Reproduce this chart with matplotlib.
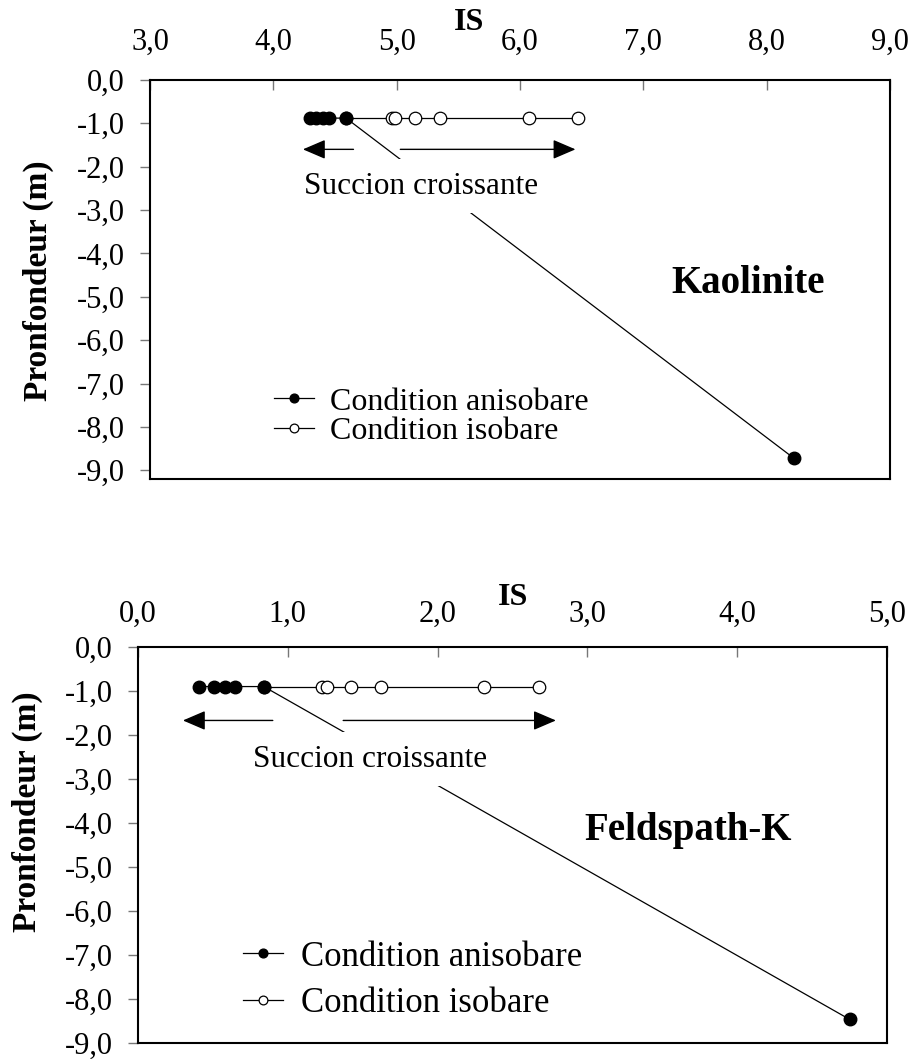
import matplotlib.pyplot as plt
from matplotlib.ticker import FuncFormatter, MultipleLocator

plt.rcParams['font.family'] = ['Liberation Serif', 'DejaVu Serif']

# Kaolinite
kao_aniso_is = [4.30, 4.35, 4.40, 4.45, 4.59, 8.22]
kao_aniso_depth = [-0.88, -0.88, -0.88, -0.88, -0.88, -8.72]
kao_iso_is = [4.59, 4.96, 4.99, 5.15, 5.35, 6.07, 6.47]
kao_iso_depth = [-0.88, -0.88, -0.88, -0.88, -0.88, -0.88, -0.88]

# Feldspath-K
fel_aniso_is = [0.41, 0.51, 0.58, 0.65, 0.84, 4.75]
fel_aniso_depth = [-0.9, -0.9, -0.9, -0.9, -0.9, -8.46]
fel_iso_is = [0.84, 1.23, 1.26, 1.42, 1.62, 2.31, 2.68]
fel_iso_depth = [-0.9, -0.9, -0.9, -0.9, -0.9, -0.9, -0.9]

comma = FuncFormatter(lambda v, p: f'{v:.1f}'.replace('.', ','))


def panel(ax, aniso_x, aniso_y, iso_x, iso_y, xlim, ylim, name, name_xy,
          arrow_l, arrow_r, arrow_y, txt_xy, leg_anchor, leg_size, leg_spacing,
          leg_hlen, xpad):
    ax.plot(iso_x, iso_y, color='black', lw=0.9, marker='o', ms=9,
            mfc='white', mec='black', mew=0.9, label='Condition isobare', zorder=2)
    ax.plot(aniso_x, aniso_y, color='black', lw=0.9, marker='o', ms=9,
            mfc='black', mec='black', label='Condition anisobare', zorder=3)
    ax.set_xlim(*xlim)
    ax.set_ylim(*ylim)
    ax.xaxis.tick_top()
    ax.xaxis.set_major_locator(MultipleLocator(1))
    ax.yaxis.set_major_locator(MultipleLocator(1))
    ax.xaxis.set_major_formatter(comma)
    ax.yaxis.set_major_formatter(comma)
    ax.tick_params(axis='x', direction='in', length=7, width=1, color='#777777',
                   labelsize=22, pad=xpad)
    ax.tick_params(axis='y', direction='out', length=7, width=1, color='#777777',
                   labelsize=22, pad=11)
    for s in ax.spines.values():
        s.set_linewidth(1.5)
    ax.text(name_xy[0], name_xy[1], name, fontsize=28, fontweight='bold',
            ha='center', va='center')
    style = '-|>,head_length=1.4,head_width=0.6'
    ax.annotate('', xy=(arrow_l[1], arrow_y), xytext=(arrow_l[0], arrow_y),
                arrowprops=dict(arrowstyle=style, lw=1, color='black',
                                shrinkA=0, shrinkB=0))
    ax.annotate('', xy=(arrow_r[1], arrow_y), xytext=(arrow_r[0], arrow_y),
                arrowprops=dict(arrowstyle=style, lw=1, color='black',
                                shrinkA=0, shrinkB=0))
    ax.text(txt_xy[0], txt_xy[1], 'Succion croissante', fontsize=22.5,
            ha='center', va='center', zorder=4,
            bbox=dict(boxstyle='square,pad=0.4', fc='white', ec='none'))
    h, l = ax.get_legend_handles_labels()
    ax.legend(h[::-1], l[::-1], loc='upper left', bbox_to_anchor=leg_anchor,
              frameon=False, fontsize=leg_size, markerscale=0.7,
              handlelength=leg_hlen, handletextpad=0.5,
              labelspacing=leg_spacing, borderaxespad=0)


fig = plt.figure(figsize=(9.10, 10.59), dpi=100)
ax1 = fig.add_axes([0.1648, 0.5477, 0.8132, 0.3768])
ax2 = fig.add_axes([0.1516, 0.0150, 0.8231, 0.3741])

panel(ax1, kao_aniso_is, kao_aniso_depth, kao_iso_is, kao_iso_depth,
      (3, 9), (-9.2, 0), 'Kaolinite', (7.85, -4.7),
      (4.65, 4.24), (5.03, 6.45), -1.6, (5.2, -2.45),
      (0.151, 0.262), 23, 0.0, 1.25, 17)
panel(ax2, fel_aniso_is, fel_aniso_depth, fel_iso_is, fel_iso_depth,
      (0, 5), (-9, 0), 'Feldspath-K', (3.67, -4.16),
      (0.9, 0.3), (1.37, 2.79), -1.67, (1.55, -2.55),
      (0.122, 0.294), 25, 0.39, 1.15, 13)

fig.text(0.516, 0.979, 'IS', fontsize=23, fontweight='bold', ha='center', va='center')
fig.text(0.564, 0.436, 'IS', fontsize=23, fontweight='bold', ha='center', va='center')
fig.text(0.042, 0.735, 'Pronfondeur (m)', fontsize=24, fontweight='bold',
         rotation=90, ha='center', va='center')
fig.text(0.03, 0.234, 'Pronfondeur (m)', fontsize=24, fontweight='bold',
         rotation=90, ha='center', va='center')

fig.savefig('out.png', dpi=100)
